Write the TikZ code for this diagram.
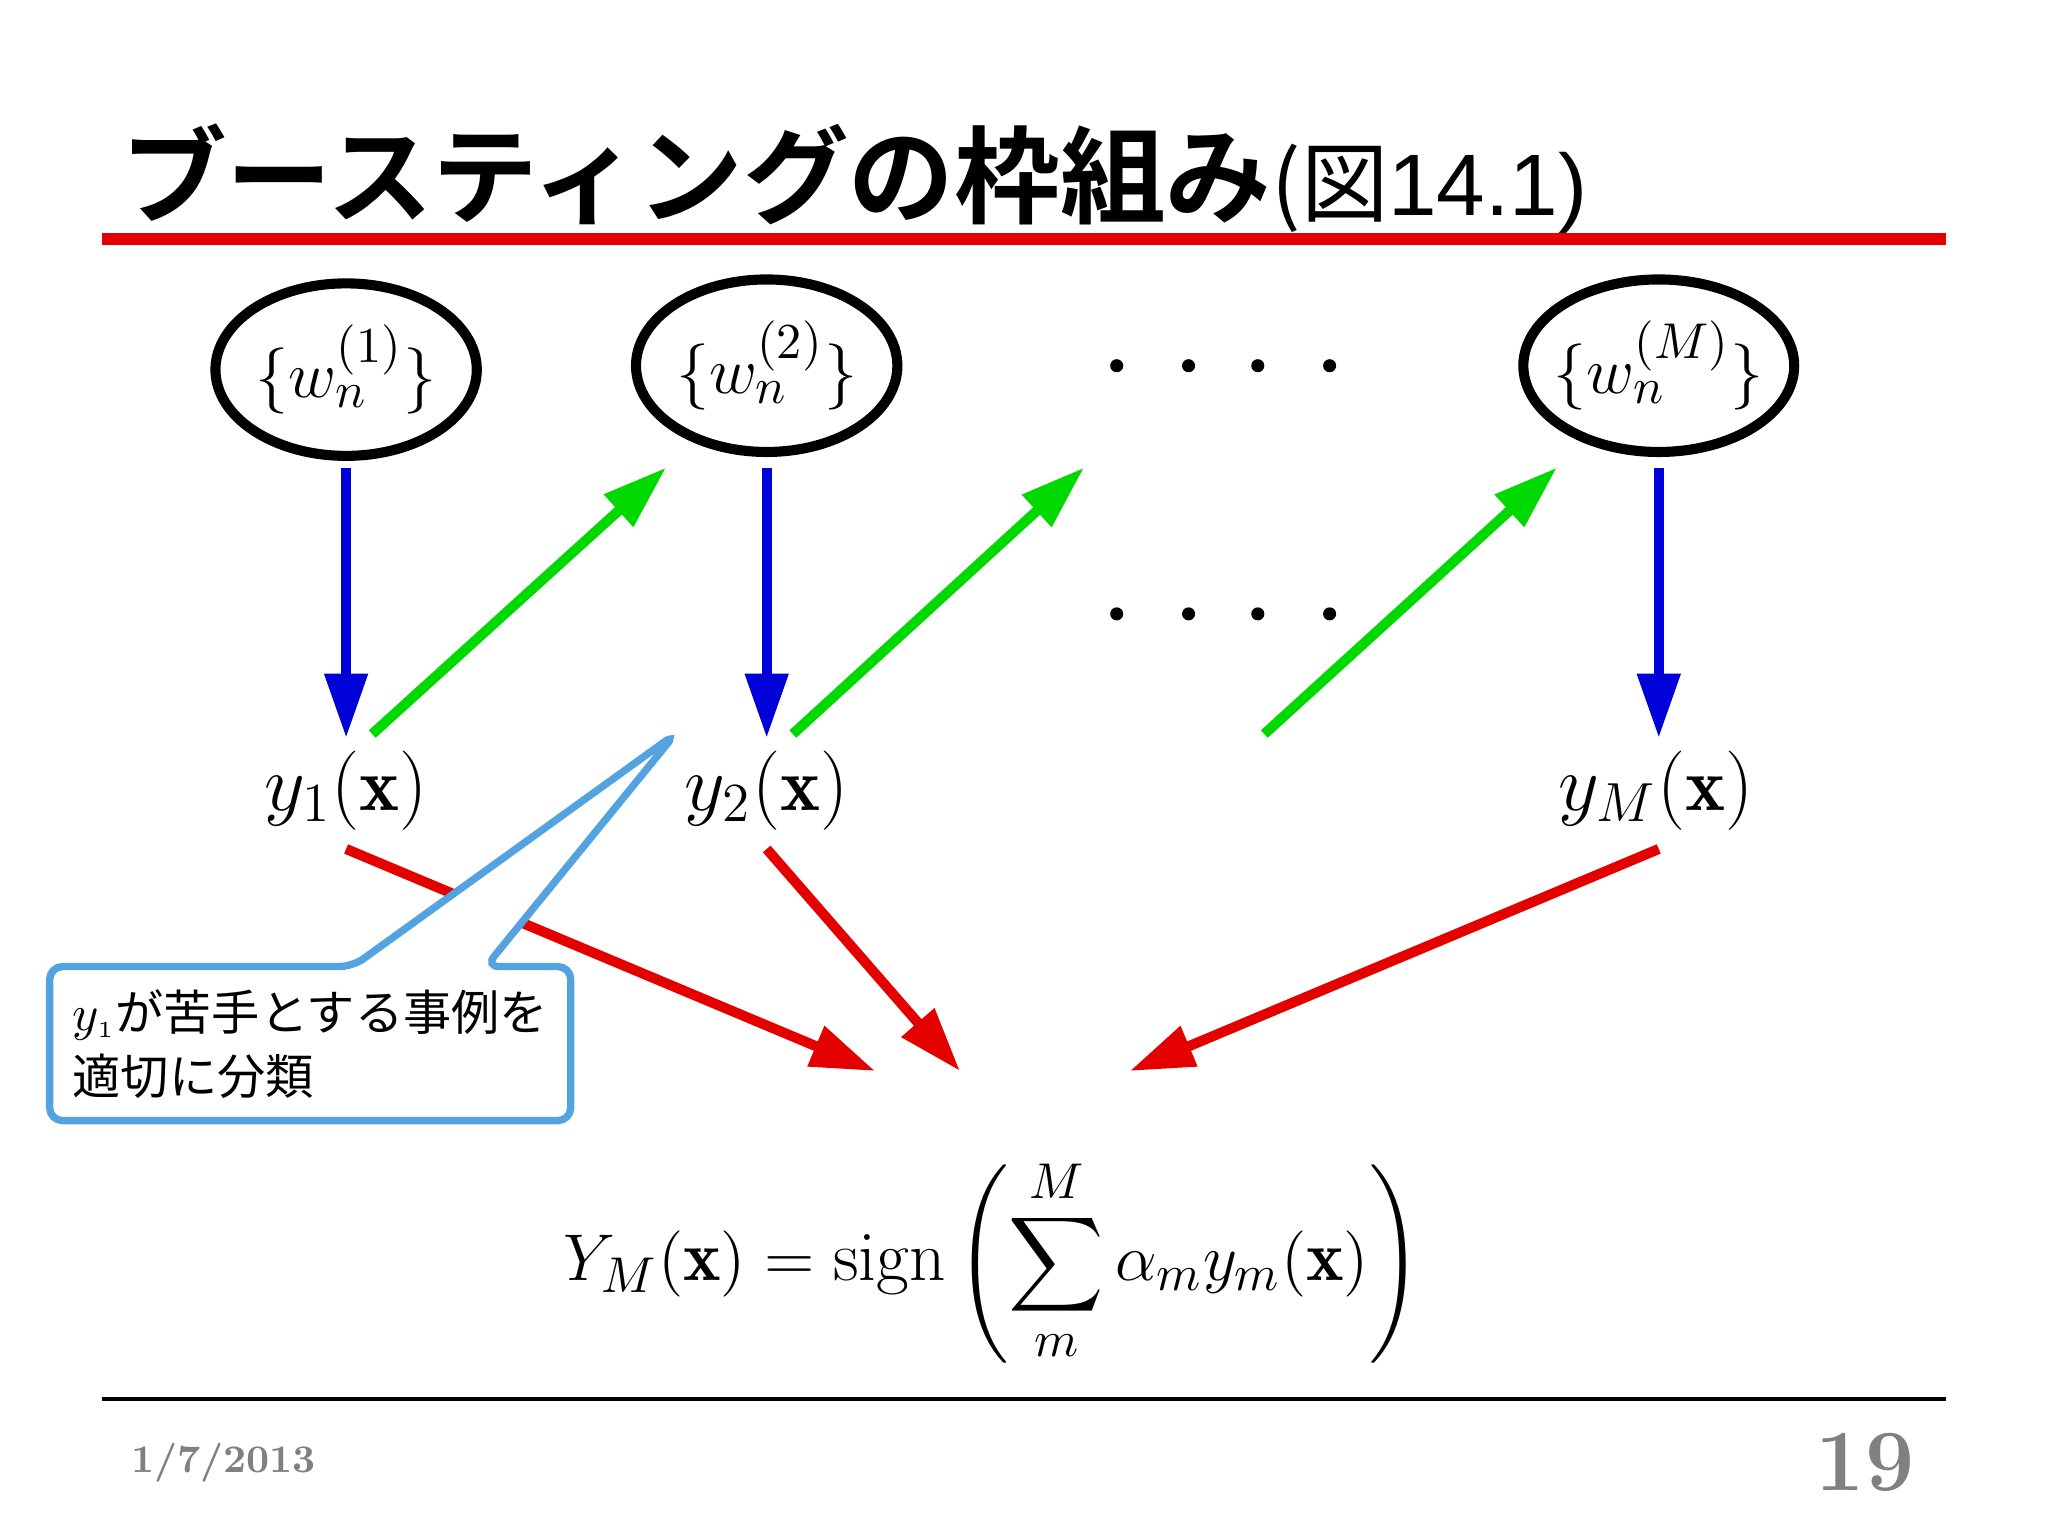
\documentclass[tikz,border=0pt]{standalone}
\usepackage{amsmath}
\usepackage{fontspec}
\newfontfamily\cjk{Noto Sans CJK JP}
\newfontfamily\cjkb{Noto Sans CJK JP Bold}
\newfontfamily\arial{Liberation Sans}
\usetikzlibrary{arrows.meta,shapes.geometric}
\begin{document}
\begin{tikzpicture}[x=0.01cm,y=-0.01cm,
  ell/.style={draw,line width=2.2pt,ellipse,minimum width=2cm,minimum height=1.32cm,inner sep=-2pt},
  arr/.style={line width=2.2pt,-{Triangle[length=14pt,width=9pt]}},
  blu/.style={arr,blue!85!black},
  grn/.style={arr,green!85!black},
  rd/.style={arr,red!90!black},
  dt/.style={circle,fill=black,inner sep=0,minimum size=0.1cm}]
\useasboundingbox (0,0) rectangle (1568,1176);
\node[anchor=base west,inner sep=0] (title) at (92,165) {\fontsize{23}{23}\selectfont\cjkb ブースティングの枠組み\fontsize{19}{19}\selectfont\cjk (図\arial 14.1)};
\draw[red!90!black,line width=2.6pt] (78,183) -- (1490,183);
\node[ell] (e1) at (265,283) {\fontsize{15.5}{15.5}\selectfont$\{w_n^{(1)}\}$};
\node[ell] (e2) at (587,280) {\fontsize{15.5}{15.5}\selectfont$\{w_n^{(2)}\}$};
\node[ell] (e3) at (1270,280) {\fontsize{15}{15}\selectfont$\{w_n^{(M)}\}$};
\foreach \x in {855,910,963,1018}{\node[dt] at (\x,280){}; \node[dt] at (\x,470){};}
\node (y1) at (265,605) {\fontsize{16.5}{16.5}\selectfont$y_1(\mathbf{x})$};
\node (y2) at (587,605) {\fontsize{16.5}{16.5}\selectfont$y_2(\mathbf{x})$};
\node (y3) at (1268,605) {\fontsize{16.5}{16.5}\selectfont$y_M(\mathbf{x})$};
\coordinate (b1s) at (265,358); \coordinate (b1e) at (265,565);
\coordinate (b2s) at (587,358); \coordinate (b2e) at (587,565);
\coordinate (b3s) at (1270,358); \coordinate (b3e) at (1270,565);
\draw[blu] (b1s) -- (b1e); \draw[blu] (b2s) -- (b2e); \draw[blu] (b3s) -- (b3e);
\coordinate (g1s) at (285,562); \coordinate (g1e) at (510,358);
\coordinate (g2s) at (607,562); \coordinate (g2e) at (830,358);
\coordinate (g3s) at (968,562); \coordinate (g3e) at (1192,358);
\draw[grn] (g1s) -- (g1e); \draw[grn] (g2s) -- (g2e); \draw[grn] (g3s) -- (g3e);
\coordinate (r1s) at (265,650); \coordinate (r1e) at (670,820);
\coordinate (r2s) at (587,650); \coordinate (r2e) at (735,820);
\coordinate (r3s) at (1270,650); \coordinate (r3e) at (865,820);
\draw[rd] (r1s) -- (r1e); \draw[rd] (r2s) -- (r2e); \draw[rd] (r3s) -- (r3e);
\coordinate (tip) at (517,562);
\draw[cyan!70!blue!70,line width=1.6pt,fill=white,rounded corners=0.1cm]
  (270,740) -- (tip) -- (372,740) -- (437,740) -- (437,858) -- (38,858) -- (38,740) -- cycle;
\node[anchor=north west,align=left,inner sep=0,font=\fontsize{10.5}{14}\selectfont\cjk] (call) at (55,757) {$y_{\scriptscriptstyle 1}$が苦手とする事例を\\ 適切に分類};
\node (f) at (760,965) {\fontsize{15.5}{15.5}\selectfont$\displaystyle Y_M(\mathbf{x})=\operatorname{sign}\left(\sum_m^M \alpha_m y_m(\mathbf{x})\right)$};
\draw[black,line width=1pt] (78,1071) -- (1490,1071);
\node[anchor=west,text=gray] (d) at (88,1120) {\fontsize{8.5}{8.5}\selectfont\bfseries 1/7/2013};
\node[anchor=east,text=gray] (p) at (1478,1120) {\fontsize{19}{19}\selectfont\bfseries 19};
\end{tikzpicture}
\end{document}
